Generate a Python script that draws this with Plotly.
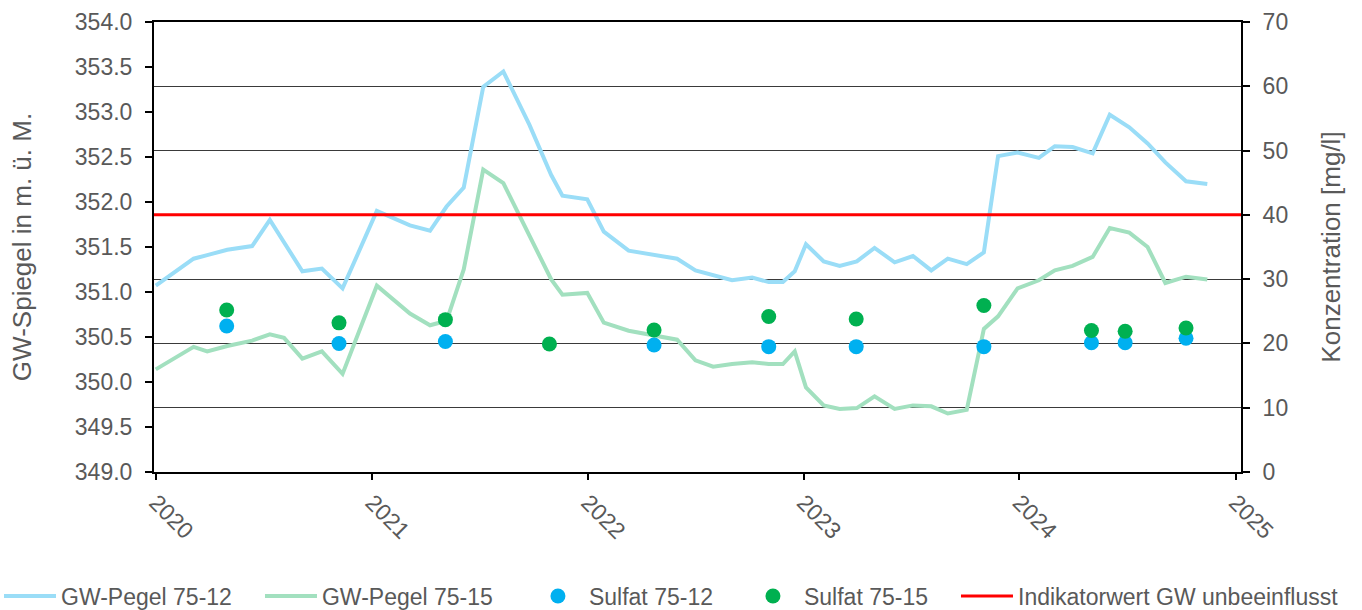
import plotly.graph_objects as go

# --- data ---
pegel_12_dates = ["2020-01-01", "2020-03-05", "2020-03-28", "2020-05-01", "2020-06-12", "2020-07-12",
                  "2020-09-05", "2020-10-08", "2020-11-12", "2021-01-09", "2021-03-06", "2021-04-09",
                  "2021-05-07", "2021-06-05", "2021-07-08", "2021-08-11", "2021-09-24", "2021-10-31",
                  "2021-11-19", "2021-12-31", "2022-01-28", "2022-03-11", "2022-06-01", "2022-07-02",
                  "2022-09-02", "2022-10-06", "2022-11-03", "2022-11-27", "2022-12-17", "2023-01-05",
                  "2023-02-04", "2023-03-03", "2023-04-01", "2023-05-01", "2023-06-04", "2023-07-05",
                  "2023-08-05", "2023-09-02", "2023-10-04", "2023-11-02", "2023-11-26", "2023-12-29",
                  "2024-02-03", "2024-03-01", "2024-03-31", "2024-05-04", "2024-06-02", "2024-07-05",
                  "2024-08-05", "2024-09-04", "2024-10-09", "2024-11-14"]
pegel_12 = [351.07, 351.37, 351.41, 351.47, 351.51, 351.80,
            351.23, 351.26, 351.04, 351.90, 351.74, 351.68,
            351.95, 352.16, 353.28, 353.45, 352.86, 352.30,
            352.07, 352.03, 351.67, 351.46, 351.37, 351.24,
            351.13, 351.16, 351.11, 351.11, 351.23, 351.53,
            351.34, 351.29, 351.34, 351.49, 351.33, 351.40,
            351.24, 351.37, 351.31, 351.44, 352.51, 352.55,
            352.49, 352.62, 352.61, 352.54, 352.97, 352.83,
            352.65, 352.44, 352.23, 352.20]

pegel_15_dates = ["2020-01-01", "2020-02-01", "2020-03-05", "2020-03-28", "2020-05-01", "2020-06-12",
                  "2020-07-12", "2020-08-05", "2020-09-05", "2020-10-08", "2020-11-12", "2021-01-09",
                  "2021-03-06", "2021-04-09", "2021-05-07", "2021-06-05", "2021-07-08", "2021-08-11",
                  "2021-10-31", "2021-11-19", "2021-12-31", "2022-01-28", "2022-03-11", "2022-06-01",
                  "2022-07-02", "2022-08-01", "2022-09-02", "2022-10-06", "2022-11-03", "2022-11-27",
                  "2022-12-17", "2023-01-05", "2023-02-04", "2023-03-03", "2023-04-01", "2023-05-01",
                  "2023-06-04", "2023-07-05", "2023-08-05", "2023-09-02", "2023-10-04", "2023-11-02",
                  "2023-11-26", "2023-12-29", "2024-02-03", "2024-03-01", "2024-03-31", "2024-05-04",
                  "2024-06-02", "2024-07-05", "2024-08-05", "2024-09-04", "2024-10-09", "2024-11-14"]
pegel_15 = [350.14, 350.26, 350.39, 350.34, 350.40, 350.46,
            350.53, 350.49, 350.26, 350.34, 350.09, 351.07,
            350.76, 350.63, 350.68, 351.25, 352.36, 352.21,
            351.14, 350.97, 350.99, 350.66, 350.57, 350.47,
            350.24, 350.17, 350.20, 350.22, 350.20, 350.20,
            350.34, 349.94, 349.74, 349.70, 349.71, 349.84,
            349.70, 349.74, 349.73, 349.65, 349.69, 350.59,
            350.73, 351.04, 351.13, 351.24, 351.29, 351.39,
            351.71, 351.66, 351.50, 351.10, 351.17, 351.14]

sulfat_dates = ["2020-04-30", "2020-11-06", "2021-05-05", "2021-10-28", "2022-04-23", "2022-11-03",
                "2023-03-31", "2023-11-02", "2024-05-02", "2024-06-28", "2024-10-09"]
sulfat_12 = [22.7, 20.0, 20.3, None, 19.75, 19.5, 19.5, 19.5, 20.1, 20.1, 20.8]
sulfat_15 = [25.2, 23.2, 23.7, 19.9, 22.1, 24.2, 23.8, 25.9, 22.0, 21.9, 22.4]

indikator_wert = 40
x_range = ["2019-12-29", "2025-01-10"]
year_ticks = ["2020-01-01", "2021-01-01", "2022-01-01", "2023-01-01", "2024-01-01", "2025-01-01"]
year_labels = ["2020", "2021", "2022", "2023", "2024", "2025"]

FONT = "Liberation Sans, Arial, sans-serif"
GREY = "#595959"

fig = go.Figure()
fig.add_trace(go.Scatter(x=pegel_12_dates, y=pegel_12, mode="lines", name="GW-Pegel 75-12",
                         line=dict(color="#9ADDF7", width=4), yaxis="y", legend="legend"))
fig.add_trace(go.Scatter(x=pegel_15_dates, y=pegel_15, mode="lines", name="GW-Pegel 75-15",
                         line=dict(color="#A2E0BF", width=4), yaxis="y", legend="legend2"))
fig.add_trace(go.Scatter(x=sulfat_dates, y=sulfat_12, mode="markers", name="Sulfat 75-12",
                         marker=dict(color="#00B0F0", size=15), yaxis="y2", legend="legend3"))
fig.add_trace(go.Scatter(x=sulfat_dates, y=sulfat_15, mode="markers", name="Sulfat 75-15",
                         marker=dict(color="#00B050", size=15), yaxis="y2", legend="legend4"))
fig.add_trace(go.Scatter(x=x_range, y=[indikator_wert, indikator_wert], mode="lines",
                         name="Indikatorwert GW unbeeinflusst",
                         line=dict(color="#FF0000", width=3), yaxis="y2", legend="legend5"))

LEG_Y = -0.2756
def leg(x):
    return dict(orientation="h", x=x, xanchor="left", y=LEG_Y, yanchor="middle",
                font=dict(family=FONT, size=23, color=GREY), itemwidth=52,
                bgcolor="rgba(0,0,0,0)")

fig.update_layout(
    width=1362, height=610,
    margin=dict(l=154, r=121, t=22, b=138, autoexpand=False),
    paper_bgcolor="white", plot_bgcolor="white",
    font=dict(family=FONT, size=23, color=GREY),
    showlegend=True,
    legend=leg(-0.1426), legend2=leg(0.0975), legend3=leg(0.3431),
    legend4=leg(0.5409), legend5=leg(0.7378),
    xaxis=dict(range=x_range, tickvals=year_ticks, ticktext=year_labels, tickangle=45,
               showgrid=False, zeroline=False, showline=True, mirror=True,
               linecolor="black", linewidth=2,
               ticks="outside", ticklen=6, tickcolor="black", tickwidth=1.5, automargin=False,
               tickfont=dict(family=FONT, size=23, color=GREY)),
    yaxis=dict(range=[349, 354], dtick=0.5, tickformat=".1f", showgrid=False, zeroline=False,
               showline=True, linecolor="black", linewidth=2, automargin=False,
               ticks="outside", ticklen=7, tickcolor="black", tickwidth=1.5, ticklabelstandoff=8,
               tickfont=dict(family=FONT, size=23, color=GREY),
               title=dict(text="GW-Spiegel in m. ü. M.", font=dict(family=FONT, size=26, color=GREY),
                          standoff=36)),
    yaxis2=dict(range=[0, 70], dtick=10, overlaying="y", side="right", showgrid=True,
                gridcolor="#3A3A3A", gridwidth=1.3, zeroline=False, automargin=False,
                showline=True, linecolor="black", linewidth=2,
                ticks="outside", ticklen=7, tickcolor="black", tickwidth=1.5, ticklabelstandoff=8,
                tickfont=dict(family=FONT, size=23, color=GREY),
                title=dict(text="Konzentration [mg/l]", font=dict(family=FONT, size=26, color=GREY),
                           standoff=35)),
)

fig.write_html("out.html", post_script="document.body.style.margin='0';",
               config={"displayModeBar": False})
